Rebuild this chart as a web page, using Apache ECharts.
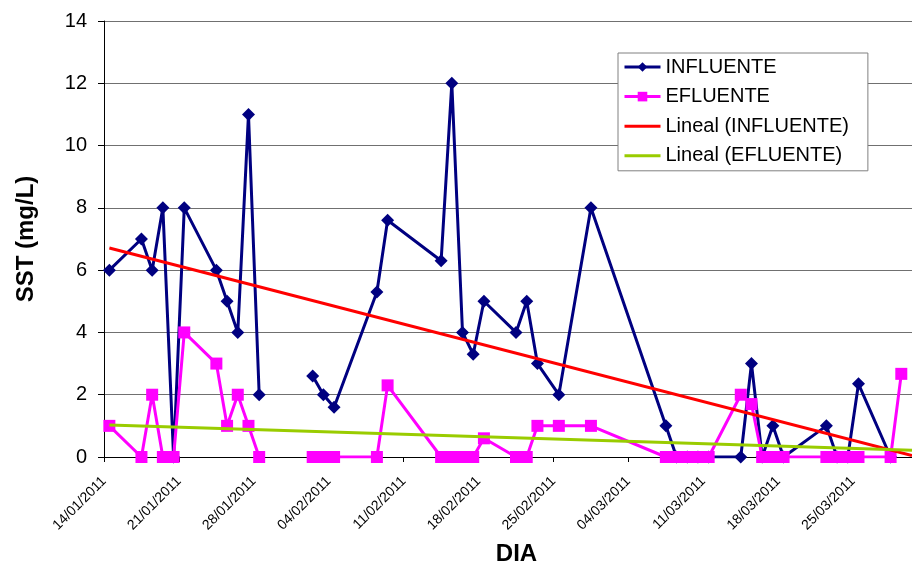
<!DOCTYPE html>
<html>
<head>
<meta charset="utf-8">
<script src="https://cdn.jsdelivr.net/npm/echarts@6/dist/echarts.min.js"></script>
<style>
  html, body { margin: 0; padding: 0; background: #ffffff; }
  #chart { width: 912px; height: 566px; }
</style>
</head>
<body>
<div id="chart"></div>
<script>
// ---- data ----
const dates = [
  '14/01/2011','17/01/2011','18/01/2011','19/01/2011','20/01/2011','21/01/2011',
  '24/01/2011','25/01/2011','26/01/2011','27/01/2011','28/01/2011','31/01/2011',
  '02/02/2011','03/02/2011','04/02/2011','08/02/2011','09/02/2011',
  '14/02/2011','15/02/2011','16/02/2011','17/02/2011','18/02/2011',
  '21/02/2011','22/02/2011','23/02/2011','25/02/2011','28/02/2011',
  '07/03/2011','08/03/2011','09/03/2011','10/03/2011','11/03/2011',
  '14/03/2011','15/03/2011','16/03/2011','17/03/2011','18/03/2011',
  '22/03/2011','23/03/2011','24/03/2011','25/03/2011','28/03/2011','29/03/2011'
];
const influente = [
  6, 7, 6, 8, 0, 8,
  6, 5, 4, 11, 2, null,
  2.6, 2, 1.6, 5.3, 7.6,
  6.3, 12, 4, 3.3, 5,
  4, 5, 3, 2, 8,
  1, 0, 0, 0, 0,
  0, 3, 0, 1, 0,
  1, 0, 0, 2.35, 0, null
];
const efluente = [
  1, 0, 2, 0, 0, 4,
  3, 1, 2, 1, 0, null,
  0, 0, 0, 0, 2.3,
  0, 0, 0, 0, 0.6,
  0, 0, 1, 1, 1,
  0, 0, 0, 0, 0,
  2, 1.7, 0, 0, 0,
  0, 0, 0, 0, 0, 2.67
];
const xTickLabels = ['14/01/2011','21/01/2011','28/01/2011','04/02/2011','11/02/2011',
  '18/02/2011','25/02/2011','04/03/2011','11/03/2011','18/03/2011','25/03/2011'];
const seriesNames = ['INFLUENTE', 'EFLUENTE', 'Lineal (INFLUENTE)', 'Lineal (EFLUENTE)'];

// ---- helpers ----
const DAY = 86400000;
function parseDate(s) {
  const p = s.split('/');
  return Date.UTC(+p[2], +p[1] - 1, +p[0]);
}
const base = parseDate(dates[0]);
// each date occupies one day slot; points sit in the middle of their slot
const xs = dates.map(d => (parseDate(d) - base) / DAY + 0.5);
const X_MAX = 75.5;

function pairs(vals) { return xs.map((x, i) => [x, vals[i]]); }
function trend(vals) {
  const pts = xs.map((x, i) => [x, vals[i]]).filter(p => p[1] !== null);
  const n = pts.length;
  let sx = 0, sy = 0, sxx = 0, sxy = 0;
  pts.forEach(p => { sx += p[0]; sy += p[1]; sxx += p[0] * p[0]; sxy += p[0] * p[1]; });
  const b = (n * sxy - sx * sy) / (n * sxx - sx * sx);
  const a = (sy - b * sx) / n;
  const x0 = pts[0][0];
  return [[x0, a + b * x0], [X_MAX, a + b * X_MAX]];
}

const FONT = "'Liberation Sans', Arial, sans-serif";
const chart = echarts.init(document.getElementById('chart'), null, { renderer: 'canvas' });
chart.setOption({
  animation: false,
  backgroundColor: '#ffffff',
  grid: { left: 104, right: 0, top: 21, bottom: 109, containLabel: false, outerBoundsMode: 'none' },
  legend: {
    orient: 'vertical',
    left: 618, top: 53,
    padding: [4, 19, 5, 5],
    itemWidth: 36, itemHeight: 12, itemGap: 9.6,
    backgroundColor: '#ffffff',
    borderColor: '#808080', borderWidth: 1,
    lineStyle: { width: 3 },
    textStyle: { fontFamily: FONT, fontSize: 20, color: '#000000' },
    data: [
      { name: seriesNames[0] },
      { name: seriesNames[1] },
      { name: seriesNames[2], itemStyle: { opacity: 0 } },
      { name: seriesNames[3], itemStyle: { opacity: 0 } }
    ]
  },
  xAxis: {
    type: 'value',
    min: 0, max: X_MAX, interval: 7,
    name: 'DIA',
    nameLocation: 'middle',
    nameGap: 85,
    nameTextStyle: { fontFamily: FONT, fontSize: 24, fontWeight: 'bold', color: '#000000', padding: [0, 0, 0, 17] },
    axisLine: { show: true, lineStyle: { color: '#000000', width: 1 } },
    axisTick: { show: true, length: 5, lineStyle: { color: '#000000' } },
    splitLine: { show: false },
    axisLabel: {
      rotate: 45, margin: 22, fontFamily: FONT, fontSize: 14, color: '#000000',
      showMaxLabel: false,
      formatter: v => {
        const k = Math.round(v / 7);
        return (Math.abs(v - k * 7) < 1e-6 && xTickLabels[k]) ? xTickLabels[k] : '';
      }
    }
  },
  yAxis: {
    type: 'value',
    min: 0, max: 14, interval: 2,
    name: 'SST (mg/L)',
    nameLocation: 'middle',
    nameGap: 66,
    nameTextStyle: { fontFamily: FONT, fontSize: 24, fontWeight: 'bold', color: '#000000' },
    axisLine: { show: true, lineStyle: { color: '#000000', width: 1 } },
    axisTick: { show: true, length: 6, lineStyle: { color: '#000000' } },
    splitLine: { show: true, lineStyle: { color: '#707070', width: 1 } },
    axisLabel: { margin: 17, fontFamily: FONT, fontSize: 20, color: '#000000' }
  },
  series: [
    {
      name: seriesNames[0], type: 'line', data: pairs(influente),
      connectNulls: false,
      symbol: 'diamond', symbolSize: 13, showAllSymbol: true,
      lineStyle: { color: '#000080', width: 3 },
      itemStyle: { color: '#000080' },
      z: 2
    },
    {
      name: seriesNames[1], type: 'line', data: pairs(efluente),
      connectNulls: false,
      symbol: 'rect', symbolSize: 12, showAllSymbol: true,
      lineStyle: { color: '#FF00FF', width: 3 },
      itemStyle: { color: '#FF00FF' },
      z: 3
    },
    {
      name: seriesNames[2], type: 'line', data: trend(influente),
      symbol: 'none', silent: true,
      lineStyle: { color: '#FF0000', width: 3 },
      itemStyle: { color: '#FF0000' },
      z: 4
    },
    {
      name: seriesNames[3], type: 'line', data: trend(efluente),
      symbol: 'none', silent: true,
      lineStyle: { color: '#99CC00', width: 3 },
      itemStyle: { color: '#99CC00' },
      z: 5
    }
  ]
});
</script>
</body>
</html>
